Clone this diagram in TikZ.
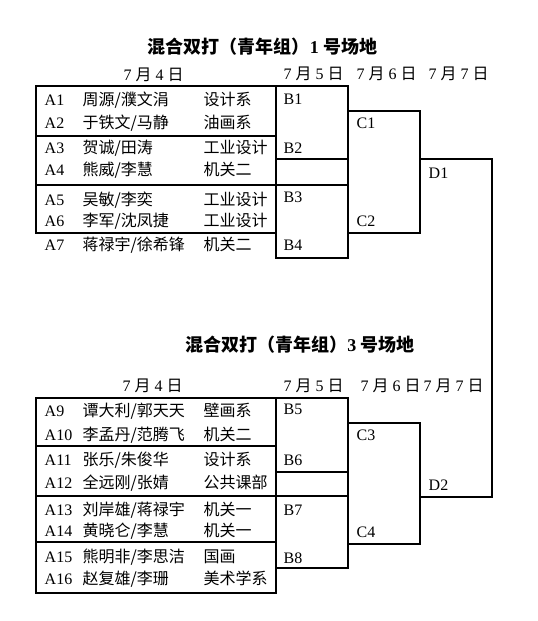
\documentclass[tikz,border=0pt]{standalone}
\usepackage{fontspec}
\setmainfont{Liberation Serif}
\newfontfamily\cjk{Noto Sans CJK SC}
\newcommand\riqi[2]{#1 {\cjk 月} #2 {\cjk 日}}

\begin{document}
\begin{tikzpicture}[x=1pt,y=-1pt,line width=1.4pt,
    txt/.style={anchor=base west,inner sep=0pt,font=\fontsize{16}{18}\selectfont},
    title/.style={anchor=base,inner sep=0pt,font=\fontsize{18}{20}\selectfont\bfseries}]
    \useasboundingbox (0,0) rectangle (538,621);

    % court 1
    \node[title] (t1) at (262.5,53) {{\cjk 混合双打（青年组）}1 {\cjk 号场地}};
    \node[txt] (d1a) at (123,80) {\riqi74};
    \node[txt] (d1b) at (283,79) {\riqi75};
    \node[txt] (d1c) at (356,79) {\riqi76};
    \node[txt] (d1d) at (428,79) {\riqi77};

    \draw (36,86) rectangle (276,233);
    \draw (36,136) -- (276,136);
    \draw (36,185) -- (348,185);
    \draw (276,86) -- (348,86) -- (348,258) -- (276,258) -- (276,233);
    \draw (276,159) -- (348,159);
    \draw (348,111) -- (420,111) -- (420,233) -- (348,233);
    \draw (420,159) -- (492,159) -- (492,497) -- (420,497);

    % court 3
    \node[title] (t3) at (300,351) {{\cjk 混合双打（青年组）}3 {\cjk 号场地}};
    \node[txt] (d3a) at (122,391) {\riqi74};
    \node[txt] (d3b) at (283,391) {\riqi75};
    \node[txt] (d3c) at (360,391) {\riqi76};
    \node[txt] (d3d) at (423,391) {\riqi77};

    \draw (36,398) rectangle (276,593);
    \draw (36,446) -- (276,446);
    \draw (36,496) -- (348,496);
    \draw (36,542) -- (276,542);
    \draw (276,398) -- (348,398) -- (348,568) -- (276,568);
    \draw (276,472) -- (348,472);
    \draw (348,423) -- (420,423) -- (420,544) -- (348,544);

    % pairs
    \foreach \y/\id/\pa/\pb/\dept in {
        105/A1/周源/濮文涓/设计系, 128/A2/于铁文/马静/油画系,
        153/A3/贺诚/田涛/工业设计, 175/A4/熊威/李慧/机关二,
        205/A5/吴敏/李奕/工业设计, 226/A6/李军/沈凤捷/工业设计,
        250/A7/蒋禄宇/徐希锋/机关二,
        416/A9/谭大利/郭天天/壁画系, 440/A10/李孟丹/范腾飞/机关二,
        465/A11/张乐/朱俊华/设计系, 488/A12/全远刚/张婧/公共课部,
        515/A13/刘岸雄/蒋禄宇/机关一, 536/A14/黄晓仑/李慧/机关一,
        562/A15/熊明非/李思洁/国画, 584/A16/赵复雄/李珊/美术学系}{
        \node[txt] (\id) at (44,\y) {\id};
        \node[txt] (\id-name) at (82,\y) {\cjk \pa/\pb};
        \node[txt] (\id-dept) at (203,\y) {\cjk \dept};
    }

    % rounds
    \foreach \x/\y/\id in {283/104/B1, 283/153/B2, 283/202/B3, 283/250/B4,
        356/128/C1, 356/226/C2, 428/178/D1,
        283/414/B5, 283/465/B6, 283/515/B7, 283/563/B8,
        356/440/C3, 356/537/C4, 428/490/D2}
        \node[txt] (\id) at (\x,\y) {\id};
\end{tikzpicture}
\end{document}
